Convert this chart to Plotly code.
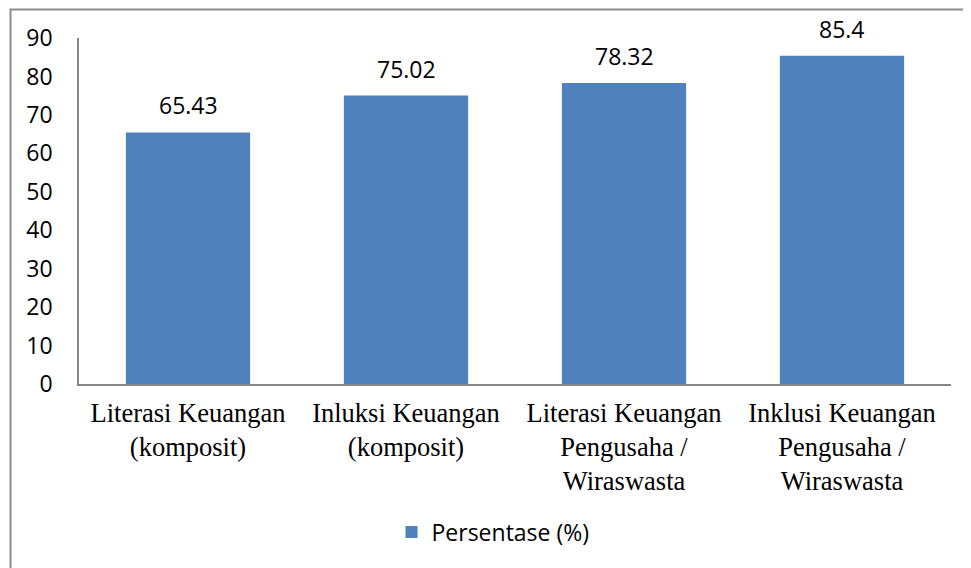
import plotly.graph_objects as go

categories = [
    "Literasi Keuangan<br>(komposit)",
    "Inluksi Keuangan<br>(komposit)",
    "Literasi Keuangan<br>Pengusaha /<br>Wiraswasta",
    "Inklusi Keuangan<br>Pengusaha /<br>Wiraswasta",
]
values = [65.43, 75.02, 78.32, 85.4]
value_labels = ["65.43", "75.02", "78.32", "85.4"]
series_name = "Persentase (%)"
y_ticks = [0, 10, 20, 30, 40, 50, 60, 70, 80, 90]

OFF = 8  # page body margin offset
W, H = 971, 568
ML = 79 - OFF
MT = 38 - OFF
MR = W - (951 - OFF)
MB = H - (384 - OFF)
pw = W - ML - MR
ph = H - MT - MB

fig = go.Figure()
fig.add_trace(go.Bar(
    x=categories, y=values, name=series_name,
    marker=dict(color="#4F81BD", line=dict(width=0)),
    width=0.57, showlegend=True,
))

for c, v, t in zip(categories, values, value_labels):
    fig.add_annotation(x=c, y=v, text=t, showarrow=False, yanchor="bottom",
                       yshift=9, font=dict(family="Open Sans", size=23, color="#000"))

# outer border (window coords: left 10.5, top 9.5)
bx0 = 10.5 - OFF
by0 = 9.5 - OFF
fig.add_shape(type="rect", xref="paper", yref="paper",
              x0=(bx0 - ML) / pw, x1=(W + 20 - ML) / pw,
              y0=-(H + 20 - MT - ph) / ph, y1=(MT + ph - by0) / ph,
              line=dict(color="#8C8C8C", width=2), fillcolor="rgba(0,0,0,0)", layer="below")

leg_y = 532 - OFF
fig.update_layout(
    width=W, height=H,
    margin=dict(l=ML, r=MR, t=MT, b=MB, pad=0, autoexpand=False),
    paper_bgcolor="white", plot_bgcolor="white",
    xaxis=dict(showline=True, linecolor="#868686", linewidth=1.5, ticks="",
               tickfont=dict(family="Liberation Serif", size=26.5, color="#000"),
               ticklabelstandoff=4, showgrid=False, zeroline=False, automargin=False),
    yaxis=dict(range=[0, 90], tickvals=y_ticks, showline=True, linecolor="#868686",
               linewidth=1.5, ticks="", showgrid=False, zeroline=False, automargin=False,
               tickfont=dict(family="Open Sans", size=23, color="#000"),
               ticklabelstandoff=20),
    legend=dict(orientation="h", x=0.5 - 22 / pw, xanchor="center",
                y=-(leg_y - MT - ph) / ph, yanchor="middle",
                font=dict(family="Open Sans", size=23, color="#000"), itemwidth=30),
)

fig.write_html("out.html")
